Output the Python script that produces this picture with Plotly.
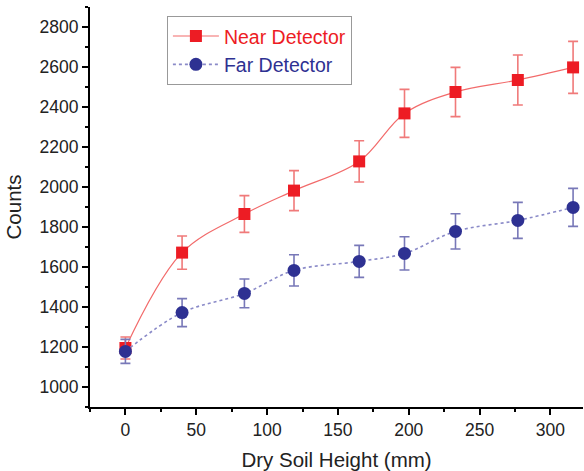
import plotly.graph_objects as go

height_mm = [0, 40, 84, 119, 165, 197, 233, 277, 316]
near_counts = [1195, 1672, 1865, 1982, 2128, 2368, 2475, 2535, 2598]
near_err = [55, 83, 92, 100, 103, 120, 123, 125, 130]
far_counts = [1178, 1372, 1468, 1583, 1628, 1668, 1778, 1833, 1898]
far_err = [60, 70, 72, 78, 80, 83, 88, 90, 95]

RED = "#ed1c24"
BLUE = "#2e3192"
FONT = "Liberation Sans, Arial"

fig = go.Figure()
fig.add_trace(go.Scatter(
    x=height_mm, y=near_counts, mode="lines+markers", cliponaxis=False,
    name='<span style="color:#ed1c24">Near Detector</span>',
    line=dict(color="#f26b6b", width=1.2, shape="spline", smoothing=1.0),
    marker=dict(symbol="square", size=12, color=RED),
    error_y=dict(type="data", array=near_err, visible=True, color="#f07a7a", thickness=1.6, width=5),
))
fig.add_trace(go.Scatter(
    x=height_mm, y=far_counts, mode="lines+markers", cliponaxis=False,
    name='<span style="color:#2e3192">Far Detector</span>',
    line=dict(color="#8a8ac8", width=1.6, dash="dot", shape="spline", smoothing=1.0),
    marker=dict(symbol="circle", size=13, color=BLUE),
    error_y=dict(type="data", array=far_err, visible=True, color="#7878b8", thickness=1.6, width=5),
))

axis_common = dict(
    showline=True, linecolor="black", linewidth=2, mirror=False,
    ticks="outside", ticklen=6, tickwidth=2, tickcolor="black",
    showgrid=False, zeroline=False, automargin=False,
    tickfont=dict(family=FONT, size=17.5, color="#222"),
)
fig.update_xaxes(
    range=[-25, 323], tickmode="linear", tick0=0, dtick=50,
    minor=dict(ticks="outside", ticklen=3, tickwidth=2, tickcolor="black", dtick=25, tick0=0),
    title=dict(text="Dry Soil Height (mm)", font=dict(family=FONT, size=20.5, color="#222"), standoff=14),
    **axis_common,
)
fig.update_yaxes(
    range=[900, 2900], tickmode="linear", tick0=1000, dtick=200,
    minor=dict(ticks="outside", ticklen=3, tickwidth=2, tickcolor="black", dtick=100, tick0=1000),
    title=dict(text="Counts", font=dict(family=FONT, size=20.5, color="#222"), standoff=12),
    **axis_common,
)
fig.update_layout(
    width=584, height=471,
    margin=dict(l=90, r=1, t=7, b=64),
    plot_bgcolor="white", paper_bgcolor="white",
    legend=dict(
        x=0.156, y=0.978, xanchor="left", yanchor="top",
        bordercolor="#999", borderwidth=1, bgcolor="white",
        font=dict(family=FONT, size=19.5),
        tracegroupgap=0, itemwidth=46,
    ),
)
fig.write_html(
    "out.html",
    config={"displayModeBar": False},
    post_script="document.body.style.margin='0';document.body.style.overflow='hidden';",
)
